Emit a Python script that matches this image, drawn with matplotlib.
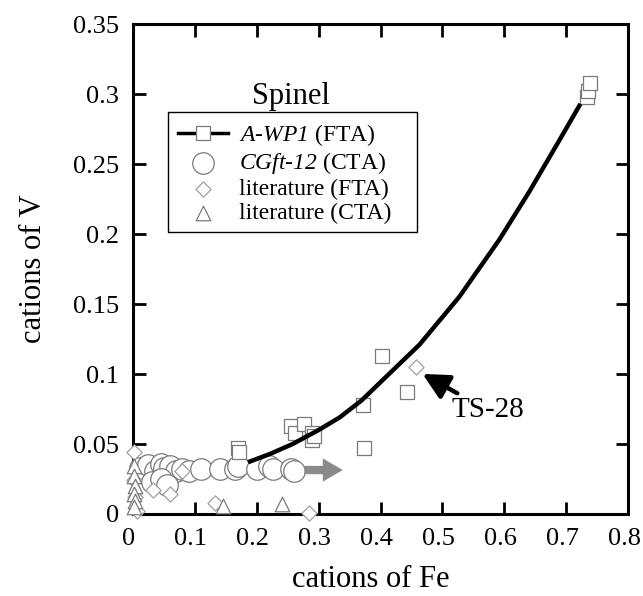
import matplotlib
matplotlib.use("Agg")
import matplotlib.pyplot as plt
import matplotlib.transforms as mtransforms
from matplotlib.patches import Rectangle

plt.rcParams["font.family"] = ["Liberation Serif", "DejaVu Serif"]
plt.rcParams["mathtext.fontset"] = "custom"
plt.rcParams["mathtext.rm"] = "Liberation Serif"
plt.rcParams["mathtext.sf"] = "Liberation Serif:italic"

# A-WP1 (FTA) squares
awp_x = [0.169, 0.172, 0.256, 0.261, 0.277, 0.289, 0.290, 0.292, 0.371, 0.374,
         0.402, 0.442, 0.733, 0.736, 0.738]
awp_y = [0.047, 0.044, 0.063, 0.058, 0.064, 0.058, 0.053, 0.056, 0.078, 0.047,
         0.113, 0.087, 0.298, 0.302, 0.308]

# fitted curve through A-WP1
fit_x = [0.186, 0.222, 0.258, 0.300, 0.334, 0.369, 0.463, 0.527, 0.592, 0.640,
         0.689, 0.723]
fit_y = [0.037, 0.043, 0.050, 0.060, 0.069, 0.081, 0.121, 0.155, 0.196, 0.230,
         0.267, 0.293]

# CGft-12 (CTA) circles
cg_x = [0.012, 0.025, 0.035, 0.045, 0.050, 0.060, 0.070, 0.080, 0.090, 0.030,
        0.045, 0.055, 0.110, 0.140, 0.165, 0.170, 0.200, 0.220, 0.226, 0.255,
        0.260]
cg_y = [0.033, 0.035, 0.031, 0.036, 0.033, 0.034, 0.031, 0.032, 0.031, 0.023,
        0.025, 0.021, 0.032, 0.032, 0.032, 0.034, 0.032, 0.034, 0.032, 0.032,
        0.031]

# literature (FTA) diamonds
litf_x = [0.002, 0.002, 0.004, 0.079, 0.033, 0.060, 0.132, 0.006, 0.285, 0.458]
litf_y = [0.044, 0.024, 0.012, 0.031, 0.017, 0.014, 0.008, 0.002, 0.001, 0.105]

# literature (CTA) triangles
litc_x = [0.002, 0.002, 0.003, 0.002, 0.003, 0.002, 0.145, 0.240]
litc_y = [0.034, 0.027, 0.020, 0.014, 0.009, 0.005, 0.006, 0.007]

xticks = [0, 0.1, 0.2, 0.3, 0.4, 0.5, 0.6, 0.7, 0.8]
xticklabels = ["0", "0.1", "0.2", "0.3", "0.4", "0.5", "0.6", "0.7", "0.8"]
yticks = [0, 0.05, 0.1, 0.15, 0.2, 0.25, 0.3, 0.35]
yticklabels = ["0", "0.05", "0.1", "0.15", "0.2", "0.25", "0.3", "0.35"]

legend_labels = [r"$\mathsf{A}$-$\mathsf{WP1}$ (FTA)",
                 r"$\mathsf{CGft}$-$\mathsf{12}$ (CTA)",
                 "literature (FTA)", "literature (CTA)"]

fig = plt.figure(figsize=(6.43, 5.96), dpi=100)
ax = fig.add_axes([0.2068, 0.1376, 0.770, 0.822])

edge = "#7a7a7a"
light = "#a0a0a0"
circ = dict(s=240, marker="o", facecolor="white", edgecolor=edge, linewidth=0.9)
diam = dict(s=60, marker="D", facecolor="white", edgecolor=light, linewidth=0.9)
tri = dict(s=110, marker="^", facecolor="white", edgecolor=edge, linewidth=0.9)
sq = dict(s=105, marker="s", facecolor="white", edgecolor=edge, linewidth=0.9)

ax.scatter(cg_x, cg_y, zorder=3, clip_on=False, **circ)
ax.scatter(litf_x, litf_y, zorder=4, clip_on=False, **diam)
ax.scatter(litc_x, litc_y, zorder=4, clip_on=False, **tri)
ax.scatter(awp_x, awp_y, zorder=4, clip_on=False, **sq)
ax.plot(fit_x, fit_y, color="black", lw=3.2, zorder=5, solid_capstyle="butt")

# grey trend arrow
ax.annotate("", xy=(0.339, 0.0314), xytext=(0.277, 0.0314),
            arrowprops=dict(arrowstyle="simple,head_length=1.2,head_width=1.4,tail_width=0.5",
                            color="#8a8a8a", mutation_scale=12, lw=0, shrinkA=0, shrinkB=0),
            zorder=6)

# TS-28 annotation
ax.annotate("TS-28", xy=(0.462, 0.1015), xytext=(0.515, 0.074),
            fontsize=21, va="center", ha="left",
            arrowprops=dict(arrowstyle="-|>,head_length=0.75,head_width=0.38",
                            color="black", lw=3.2, shrinkA=2, shrinkB=3))

# legend
h1, = ax.plot([], [], color="black", lw=2.5, marker="s", ms=10,
              mfc="white", mec=edge, mew=0.9)
h2 = ax.scatter([], [], **circ)
h3 = ax.scatter([], [], **diam)
h4 = ax.scatter([], [], **tri)
ax.legend([h1, h2, h3, h4], legend_labels,
          loc="upper left", bbox_to_anchor=(0.091, 0.80),
          fontsize=17, frameon=False, handlelength=2.1, handletextpad=0.5,
          labelspacing=0.1, borderpad=0, borderaxespad=0)
ax.add_patch(Rectangle((0.0707, 0.5755), 0.503, 0.2445, transform=ax.transAxes,
                       facecolor="none", edgecolor="black", lw=1.0, zorder=7))
ax.text(0.319, 0.853, "Spinel", transform=ax.transAxes, fontsize=22,
        ha="center", va="center")

ax.set_xlim(0, 0.8)
ax.set_ylim(0, 0.35)
ax.set_xticks(xticks)
ax.set_xticklabels(xticklabels)
ax.set_yticks(yticks)
ax.set_yticklabels(yticklabels)
ax.tick_params(direction="in", length=9, width=2, labelsize=19, top=True,
               right=True, pad=10)
for s in ax.spines.values():
    s.set_linewidth(2.2)

# x tick labels sit a little left of their ticks in the original
shift = mtransforms.ScaledTranslation(-4 / 100, 0, fig.dpi_scale_trans)
for lab in ax.get_xticklabels():
    lab.set_transform(lab.get_transform() + shift)

ax.set_xlabel("cations of Fe", fontsize=22, labelpad=11, x=0.48)
ax.set_ylabel("cations of V", fontsize=22, labelpad=18)

fig.savefig("out.png", dpi=100)
